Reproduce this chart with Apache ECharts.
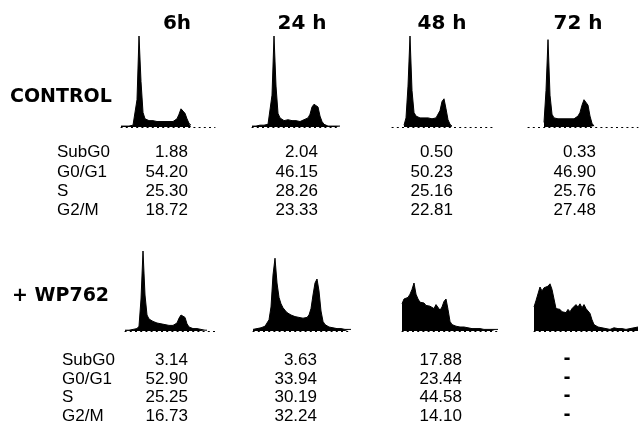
<!DOCTYPE html>
<html>
<head>
<meta charset="utf-8"/>
<title>Cell cycle histograms</title>
<script src="https://cdn.jsdelivr.net/npm/echarts@6/dist/echarts.min.js"></script>
<style>
  html, body { margin: 0; padding: 0; background: #fff; }
  #main { width: 639px; height: 430px; }
</style>
</head>
<body>
<div id="main"></div>
<script>
// column headers and row labels
var timeLabels = ['6h', '24 h', '48 h', '72 h']
var groupLabels = ['CONTROL', '+ WP762']
var phaseLabels = ['SubG0', 'G0/G1', 'S', 'G2/M']

// percentages per time point (SubG0, G0/G1, S, G2/M)
var ctrlTable = [
  [1.88, 54.20, 25.30, 18.72],
  [2.04, 46.15, 28.26, 23.33],
  [0.50, 50.23, 25.16, 22.81],
  [0.33, 46.90, 25.76, 27.48]
]
var wpTable = [
  [3.14, 52.90, 25.25, 16.73],
  [3.63, 33.94, 30.19, 32.24],
  [17.88, 23.44, 44.58, 14.10],
  [null, null, null, null]
]

// DNA histograms, relative counts per channel
var ctrl6h = [1, 1, 1, 1, 1, 2, 2, 3, 30, 100, 50, 16, 9,
  7, 7, 6, 7, 6, 6, 7, 6, 6, 6, 5, 6, 6, 6,
  7, 9, 14, 20, 21, 15, 9, 4, 2,
  0, 0, 0, 0, 0, 0, 0, 0, 0, 0, 0, 0]
var ctrl24h = [1, 2, 1, 2, 2, 1, 2, 2, 3, 5, 35, 100, 45, 15, 10,
  8, 7, 6, 8, 10, 7, 6, 7, 6, 6, 7, 8, 9, 10,
  14, 22, 25, 26, 22, 12, 6, 3,
  1, 1, 1, 1, 1, 1, 1, 1]
var ctrl48h = [0, 0, 0, 0, 0, 0, 2, 10, 45, 100, 40, 16, 12,
  11, 10, 10, 10, 9, 10, 9, 9, 9, 10,
  12, 18, 28, 31, 20, 8, 3, 1,
  0, 0, 0, 0, 0, 0, 0, 0, 0, 0, 0, 0, 0, 0, 0, 0, 0, 0, 0, 0, 0, 0]
var ctrl72h = [0, 0, 0, 0, 0, 0, 0, 0, 5, 40, 96, 35, 14,
  10, 9, 9, 9, 9, 8, 9, 9, 9, 9, 9, 10, 12,
  16, 24, 30, 32, 24, 12, 4, 1,
  0, 0, 0, 0, 0, 0, 0, 0, 0, 0, 0, 0, 0, 0, 0, 0, 0, 0, 0, 0, 0, 0]
var wp6h = [1, 1, 1, 3, 2, 2, 3, 6, 40, 100, 45, 20, 15,
  13, 12, 11, 10, 9, 9, 8, 8, 7, 7, 7, 7,
  8, 10, 16, 20, 21, 17, 9, 5,
  4, 3, 3, 3, 2, 2, 2, 1, 1, 0, 0, 0, 0]
var wp24h = [2, 3, 3, 4, 4, 5, 6, 8, 14, 30, 70, 91, 60, 42, 34,
  29, 26, 23, 21, 20, 19, 18, 17, 17, 16, 16, 16, 17,
  20, 28, 45, 60, 65, 50, 25, 12,
  8, 6, 5, 5, 4, 4, 3, 3, 3, 3, 2, 2, 2, 2]
var wp48h = [34, 40, 38, 42, 46, 52, 60, 46, 40, 36,
  34, 35, 32, 33, 31, 32, 28, 33, 31, 26,
  30, 37, 40, 27, 12, 8, 7, 6, 6, 5,
  5, 5, 4, 4, 4, 3, 4, 3, 3, 3,
  3, 2, 3, 2, 3, 2, 2, 2, 2]
var wp72h = [30, 38, 36, 55, 50, 54, 52, 56, 59, 52,
  40, 28, 26, 27, 24, 26, 23, 27, 24, 28,
  26, 33, 30, 34, 29, 33, 28, 30, 22, 14,
  8, 6, 5, 5, 4, 4, 3, 2, 2, 2,
  4, 3, 3, 2, 3, 3, 2, 3, 3, 3, 4, 4, 5]

// panel placement
var panels = [
  { data: ctrl6h, left: 121, top: 36, height: 91 },
  { data: ctrl24h, left: 252, top: 36, height: 91 },
  { data: ctrl48h, left: 392, top: 36, height: 91 },
  { data: ctrl72h, left: 528, top: 36, height: 91 },
  { data: wp6h, left: 125, top: 251, height: 80 },
  { data: wp24h, left: 253, top: 251, height: 80 },
  { data: wp48h, left: 402, top: 251, height: 80 },
  { data: wp72h, left: 534, top: 251, height: 80 }
]
var binPx = 2

var grids = [], xAxes = [], yAxes = [], series = []
panels.forEach(function (p, k) {
  var n = p.data.length
  grids.push({ left: p.left, top: p.top, width: binPx * (n - 1), height: p.height })
  xAxes.push({
    type: 'value', gridIndex: k, min: 0, max: n - 1,
    axisLine: { show: true, lineStyle: { color: '#000', width: 1, type: [1.2, 4] } },
    axisTick: { show: false }, axisLabel: { show: false }, splitLine: { show: false }
  })
  yAxes.push({ type: 'value', gridIndex: k, min: 0, max: 100, show: false, splitLine: { show: false } })
  series.push({
    type: 'line', xAxisIndex: k, yAxisIndex: k,
    data: p.data.map(function (v, i) { return [i, v === 0 ? null : v] }),
    showSymbol: false, silent: true, animation: false,
    lineStyle: { color: '#000', width: 1 },
    areaStyle: { color: '#000', opacity: 1 }
  })
})

// texts
var graphic = []
var titleX = [177, 302, 442, 578]
timeLabels.forEach(function (t, i) {
  graphic.push({ type: 'text', x: titleX[i], y: 24,
    style: { text: t, font: 'bold 20px "DejaVu Sans"', fill: '#000', align: 'center', verticalAlign: 'middle' } })
})
graphic.push({ type: 'text', x: 10, y: 97,
  style: { text: groupLabels[0], font: 'bold 19px "DejaVu Sans"', fill: '#000', verticalAlign: 'middle' } })
graphic.push({ type: 'text', x: 12, y: 296,
  style: { text: groupLabels[1], font: 'bold 19px "DejaVu Sans"', fill: '#000', verticalAlign: 'middle' } })

function addTable(table, labelX, rowsY, colX) {
  phaseLabels.forEach(function (lab, r) {
    graphic.push({ type: 'text', x: labelX, y: rowsY[r],
      style: { text: lab, font: '17px "Liberation Sans"', fill: '#000', verticalAlign: 'middle' } })
    table.forEach(function (col, c) {
      var v = col[r]
      if (v === null) {
        graphic.push({ type: 'text', x: colX[c], y: rowsY[r],
          style: { text: '-', font: 'bold 17px "DejaVu Sans"', fill: '#000', align: 'center', verticalAlign: 'middle' } })
      } else {
        graphic.push({ type: 'text', x: colX[c], y: rowsY[r],
          style: { text: v.toFixed(2), font: '17px "Liberation Sans"', fill: '#000', align: 'right', verticalAlign: 'middle' } })
      }
    })
  })
}
addTable(ctrlTable, 57, [152, 172, 191, 210], [188, 318, 453, 596])
addTable(wpTable, 62, [360, 379, 397, 416], [188, 317, 462, 567])

var chart = echarts.init(document.getElementById('main'))
chart.setOption({
  backgroundColor: '#fff',
  animation: false,
  grid: grids,
  xAxis: xAxes,
  yAxis: yAxes,
  series: series,
  graphic: graphic
})
</script>
</body>
</html>
